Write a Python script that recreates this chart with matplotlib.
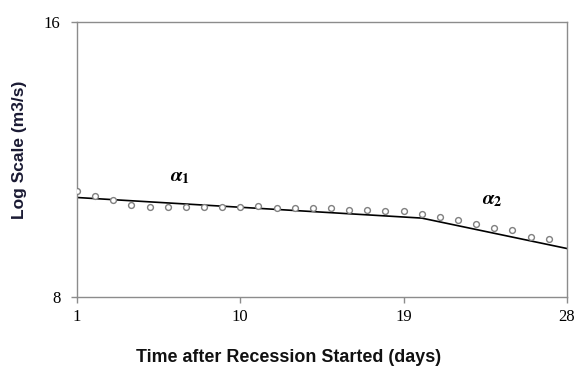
import matplotlib
matplotlib.use("Agg")
import matplotlib.pyplot as plt
from matplotlib.ticker import FixedLocator, FixedFormatter, NullLocator

# Observed daily discharge during recession
days = list(range(1, 28))
discharge = [10.46, 10.32, 10.22, 10.10, 10.03, 10.03, 10.03, 10.03, 10.03,
             10.03, 10.06, 10.00, 10.00, 10.02, 10.00, 9.96, 9.96, 9.93,
             9.93, 9.86, 9.78, 9.71, 9.62, 9.51, 9.47, 9.31, 9.25]

# Two-segment recession fit (break at day 20)
fit_days = [1, 20, 28]
fit_values = [10.28, 9.76, 9.04]

x_ticks = [1, 10, 19, 28]
y_ticks = [8, 16]

plt.rcParams["mathtext.fontset"] = "stix"

fig = plt.figure(figsize=(5.79, 3.74), dpi=100)
ax = fig.add_axes([0.133, 0.206, 0.846, 0.735])

ax.plot(fit_days, fit_values, color="black", linewidth=1.2, zorder=2)
ax.plot(days, discharge, linestyle="none", marker="o", markersize=4.2,
        markerfacecolor="white", markeredgecolor="#808080",
        markeredgewidth=1.0, zorder=3)

ax.set_yscale("log", base=2)
ax.set_xlim(1, 28)
ax.set_ylim(8, 16)
ax.xaxis.set_major_locator(FixedLocator(x_ticks))
ax.yaxis.set_major_locator(FixedLocator(y_ticks))
ax.yaxis.set_major_formatter(FixedFormatter([str(v) for v in y_ticks]))
ax.yaxis.set_minor_locator(NullLocator())

for side in ["left", "right", "top", "bottom"]:
    ax.spines[side].set_color("#8c8c8c")
    ax.spines[side].set_linewidth(1.0)

ax.tick_params(axis="x", direction="out", length=4, width=1.0,
               color="#8c8c8c", labelsize=12, pad=5)
ax.tick_params(axis="y", direction="out", length=4, width=1.0,
               color="#8c8c8c", labelsize=12, pad=8)
for lbl in ax.get_xticklabels() + ax.get_yticklabels():
    lbl.set_fontfamily("Liberation Serif")

fig.text(289 / 579, 1 - 358 / 374, "Time after Recession Started (days)",
         fontsize=12.9, fontweight="bold", fontfamily="Liberation Sans",
         ha="center", va="center", color="#111111")
fig.text(20 / 579, 1 - 150 / 374, "Log Scale (m3/s)", rotation=90,
         fontsize=12.5, fontweight="bold", fontfamily="Liberation Sans",
         ha="center", va="center", color="#1a1a33")

ax.text(6.67, 10.83, r"$\boldsymbol{\alpha}_\mathbf{1}$", fontsize=14.5,
        ha="center", va="center")
ax.text(23.92, 10.22, r"$\boldsymbol{\alpha}_\mathbf{2}$", fontsize=14.5,
        ha="center", va="center")

fig.savefig("out.png", dpi=100, facecolor="white")
